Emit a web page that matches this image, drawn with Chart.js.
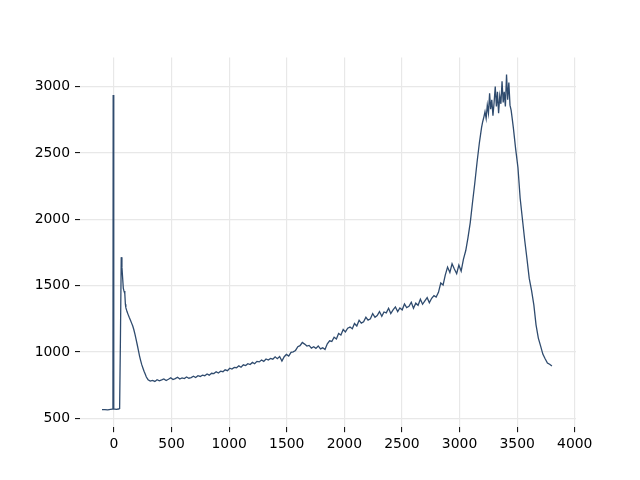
<!DOCTYPE html>
<html>
<head>
<meta charset="utf-8">
<script src="https://cdn.jsdelivr.net/npm/chart.js@4.4.0/dist/chart.umd.min.js"></script>
<style>body{margin:0;background:#fff}</style>
</head>
<body>
<canvas id="grafica" width="640" height="480"></canvas>
<script>
// valores
var xs = [
  -104, -79, -54, -30, -15, -9, -7, -4, 0, 20, 39, 49, 56, 63,
  69, 75, 81, 87, 94, 99, 103, 113, 123, 133, 143, 153, 163, 172, 182, 192,
  202, 212, 222, 231, 241, 251, 261, 271, 281,
  296, 315, 335, 355, 374, 394, 414, 433, 453, 473,
  493, 512, 532, 552, 571, 591, 611, 630, 650, 670,
  690, 709, 729, 749, 768, 788, 808, 827, 847, 867,
  887, 906, 926, 946, 965, 985, 1005, 1024, 1044, 1064,
  1084, 1103, 1123, 1143, 1162, 1182, 1202, 1221, 1241, 1261,
  1281, 1300, 1320, 1340, 1359, 1379, 1399, 1418, 1438, 1458,
  1478,
  1497, 1517, 1537, 1556, 1576, 1596, 1615, 1635, 1655, 1675,
  1694, 1714, 1734, 1753, 1773, 1793, 1812, 1832, 1852, 1872,
  1891, 1911, 1931, 1950, 1970, 1990, 2009, 2029, 2049, 2069,
  2088, 2108, 2128, 2147, 2167, 2187, 2206, 2226, 2246, 2266,
  2285, 2305, 2325, 2344, 2364, 2384, 2403, 2423, 2443, 2463,
  2482, 2502, 2522, 2541, 2561, 2581, 2600, 2620, 2640, 2660,
  2679, 2699, 2719, 2738, 2758, 2778, 2797,
  2817, 2837, 2857, 2876, 2896, 2916, 2935, 2955, 2975, 2994,
  3014, 3034, 3054, 3073, 3093, 3113, 3132, 3152, 3172,
  3191, 3201, 3211, 3221, 3231, 3241, 3251, 3261, 3270, 3280,
  3290, 3300, 3310, 3320, 3329, 3339, 3349, 3359, 3369, 3379,
  3388, 3398, 3408, 3418, 3428, 3438, 3448, 3457, 3467,
  3487, 3507, 3526, 3546, 3566, 3585, 3605, 3625, 3645, 3664,
  3684, 3704, 3723, 3743, 3763, 3782, 3802
];
var ys = [
  566, 567, 565, 568, 570, 600, 2936, 580, 572, 569, 571, 575, 1100, 1715,
  1640, 1560, 1480, 1460, 1440, 1360, 1335, 1305, 1282, 1260, 1240, 1218, 1196, 1170, 1135, 1095,
  1055, 1012, 970, 938, 905, 880, 856, 834, 812,
  792, 781, 787, 779, 792, 783, 790, 798, 786, 795,
  806, 793, 800, 810, 797, 805, 800, 812, 803, 808,
  818, 808, 822, 816, 826, 822, 835, 826, 840, 838,
  852, 842, 856, 852, 866, 860, 878, 872, 884, 882,
  896, 886, 904, 898, 912, 906, 922, 912, 930, 926,
  940, 930, 948, 940, 952, 946, 964, 950, 966, 932,
  965,
  982, 970, 998, 1002, 1012, 1040, 1048, 1072, 1060, 1045,
  1050, 1030, 1040, 1028, 1046, 1024, 1032, 1020, 1062, 1085,
  1080, 1112, 1098, 1140, 1128, 1170, 1152, 1180, 1188, 1175,
  1215, 1196, 1240, 1218, 1228, 1262, 1240, 1250, 1290, 1262,
  1275, 1305, 1270, 1302, 1295, 1330, 1290, 1318, 1340, 1305,
  1332, 1318, 1362, 1335, 1345, 1375, 1330, 1368, 1352, 1398,
  1360, 1385, 1410, 1372, 1405, 1425, 1415,
  1450, 1520, 1505, 1580, 1640, 1600, 1665, 1625, 1590, 1655,
  1610, 1700, 1765, 1860, 1975, 2130, 2270, 2430, 2575,
  2690, 2735, 2770, 2810, 2760, 2860, 2800, 2950, 2830, 2900,
  2780, 2880, 3000, 2850, 2960, 2800, 2930, 2870, 3040, 2880,
  2960, 2850, 3090, 2900, 3030, 2860, 2820, 2760, 2690,
  2530, 2390, 2160, 2000, 1840, 1705, 1555, 1465, 1355, 1205,
  1105, 1045, 985, 950, 918, 908, 895
];
var xTicks = [0, 500, 1000, 1500, 2000, 2500, 3000, 3500, 4000];
var yTicks = [500, 1000, 1500, 2000, 2500, 3000];

var puntos = [];
for (var i = 0; i < xs.length; i++) {
  puntos.push({x: xs[i], y: ys[i]});
}

var fuente = {family: 'DejaVu Sans', size: 13.9};
var ctx = document.getElementById('grafica').getContext('2d');
var chart = new Chart(ctx, {
  type: 'line',
  data: {
    datasets: [{
      data: puntos,
      borderColor: '#2f4b6e',
      borderWidth: 1.3,
      pointRadius: 0,
      fill: false,
      tension: 0
    }]
  },
  options: {
    responsive: false,
    animation: false,
    plugins: {legend: {display: false}, tooltip: {enabled: false}},
    layout: {padding: {left: 0, right: 64, top: 57.6, bottom: 0}},
    scales: {
      x: {
        type: 'linear',
        min: -295,
        max: 4011,
        afterBuildTicks: function(s) { s.ticks = xTicks.map(function(v) { return {value: v}; }); },
        afterFit: function(s) { s.height = 52.8; },
        grid: {color: '#e8e8e8', lineWidth: 1.2, tickColor: '#000', tickWidth: 1, tickLength: 5},
        border: {display: false},
        ticks: {color: '#000', font: fuente, padding: 4, maxRotation: 0, callback: function(v) { return String(v); }}
      },
      y: {
        min: 434,
        max: 3218,
        afterBuildTicks: function(s) { s.ticks = yTicks.map(function(v) { return {value: v}; }); },
        afterFit: function(s) { s.width = 80; },
        grid: {color: '#e8e8e8', lineWidth: 1.2, tickColor: '#000', tickWidth: 1, tickLength: 5},
        border: {display: false},
        ticks: {color: '#000', font: fuente, padding: 5, callback: function(v) { return String(v); }}
      }
    }
  }
});
</script>
</body>
</html>
